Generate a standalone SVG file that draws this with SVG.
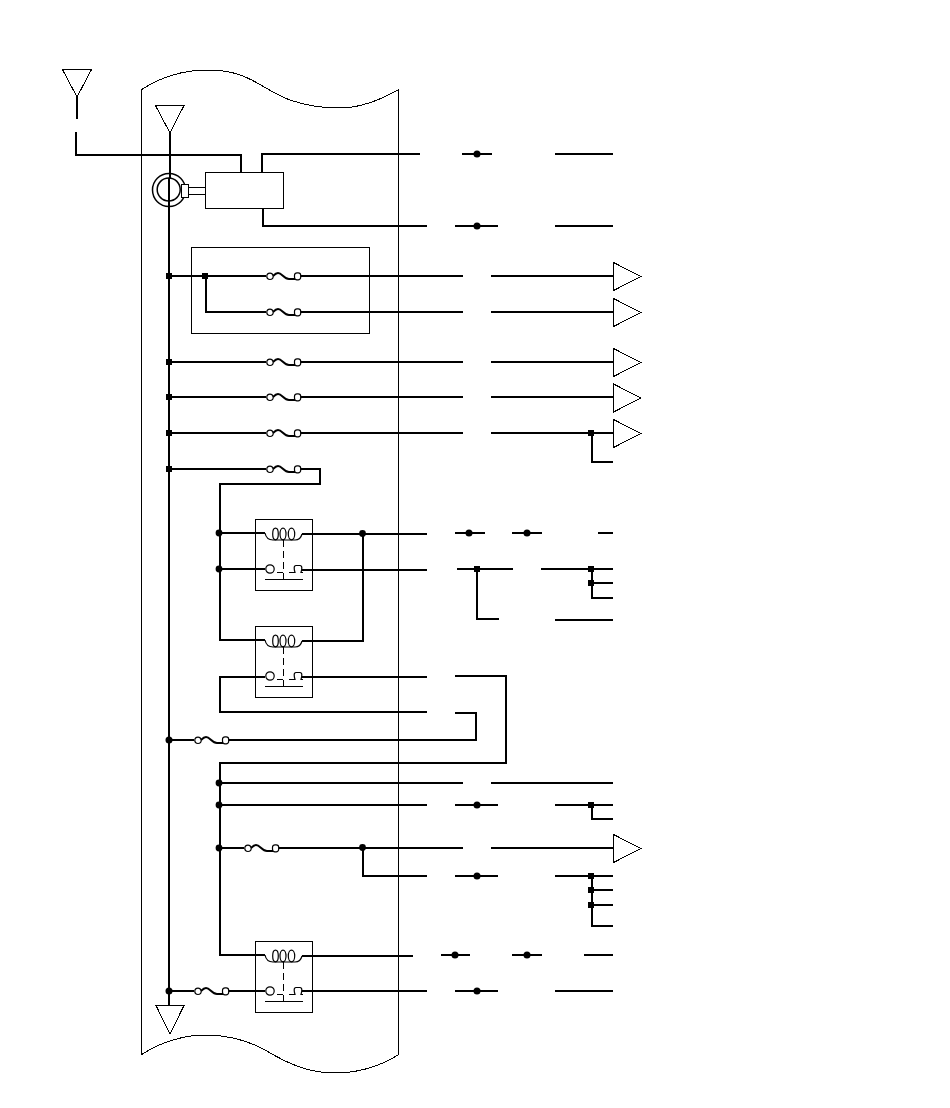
<svg xmlns="http://www.w3.org/2000/svg" width="950" height="1108" viewBox="0 0 950 1108" shape-rendering="crispEdges">
<style>
.w{fill:none;stroke:#000;stroke-width:2}
.t{fill:none;stroke:#000;stroke-width:1}
.c{fill:none;stroke:#000;stroke-width:1.2;shape-rendering:auto}
.tri{fill:#fff;stroke:#000;stroke-width:1}
.s{fill:#fff;stroke:#000;stroke-width:1.2;shape-rendering:auto}
.d{fill:#000}
.r{fill:#000;shape-rendering:auto}
</style>
<defs>
<g id="fuse">
<circle cx="4" cy="0.300" r="3.200" class="s"/>
<rect x="28.500" y="-3.200" width="6.200" height="7" rx="2.500" class="s"/>
<path d="M7 0C9 -2 10 -3 12 -3C16 -3 18 3 23 3H29M34.500 0H36" fill="none" stroke="#000" stroke-width="2" shape-rendering="auto"/>
</g>
<g id="relay">
<rect x="0.500" y="0.500" width="57" height="71" class="t"/>
<path d="M10 14C11 19 14 21 18 21H40C44 21 46 19 47 15" class="c"/>
<ellipse cx="20.500" cy="15" rx="2.800" ry="5.800" class="c"/>
<ellipse cx="28" cy="15" rx="3" ry="5.800" class="c"/>
<ellipse cx="36.500" cy="15" rx="3.200" ry="5.800" class="c"/>
<path d="M28.500 21V61" class="t" stroke-dasharray="7 4"/>
<circle cx="15" cy="50" r="4.200" class="c"/>
<path d="M22 53.500H28M34 53.500H40C39 50 38.500 46.500 41 46.500H45C47.500 46.500 47 50 46 53.500H48" class="c"/>
<path d="M10 60.500H48M28.500 60.500V55" class="t"/>
</g>
<path id="tr" d="M0 -14L27.500 0L0 14Z" class="tri"/>
</defs>
<g id="panel-outline">
<path class="t" d="M141 90C165 74 190 70 208 70C250 70 262 90 290 100C310 107 325 108 340 108C360 108 380 100 398 90V1055C380 1066 360 1073 335 1073C310 1073 290 1065 265 1050C245 1039 225 1035 205 1035C185 1035 160 1042 141 1055Z"/>
</g>
<g id="terminal-antenna-1"><path class="tri" d="M62.500 69.500H91.500L77 97Z"/></g>
<g id="terminal-antenna-2"><path class="tri" d="M155.500 105.500H184L170 133Z"/></g>
<g id="terminal-ground"><path class="tri" d="M156 1005.500H184L170 1034Z"/></g>
<g id="sensor">
<circle cx="169" cy="190" r="16.500" fill="#fff" stroke="#000" stroke-width="1.500" shape-rendering="auto"/>
<circle cx="168.700" cy="189.500" r="11.500" fill="none" stroke="#000" stroke-width="1.500" shape-rendering="auto"/>
<rect x="181" y="184.500" width="7" height="13" fill="#fff" stroke="#000"/>
<path class="t" d="M188 187.500H205M188 194.500H205"/>
</g>
<g id="module"><rect x="205.500" y="172.500" width="78" height="36" fill="#fff" stroke="#000"/></g>
<g id="fuse-block"><rect x="191.500" y="247.500" width="178" height="86" class="t"/></g>
<g id="connectors">
<path class="w" d="M77 97V119M76 132V155H241V172M262 172V154H420M462 154H492M555 154H613M263 208V226H427M455 226H498M555 226H613"/>
<path class="w" d="M170 133V178M169 178V1006"/>
<path class="w" d="M169 276H266M302 276H463M491 276H613M206 276V312H266M302 312H463M491 312H613"/>
<path class="w" d="M169 362H266M302 362H463M491 362H613M169 397H266M302 397H463M491 397H613M169 433H266M302 433H463M491 433H613M592 433V462H613"/>
<path class="w" d="M169 469H266M302 469H320V484H220V640H265M219 533H265M219 569H265M302 534H427M363 534V641H302M302 570H427"/>
<path class="w" d="M455 533H485M512 533H542M598 533H613M457 569H513M477 569V619H499M541 569H613M592 569V598H613M592 583H613M555 620H613"/>
<path class="w" d="M265 677H220V712H427M302 677H427M455 676H506V763H220V955H265M455 713H476V740H230M169 740H194"/>
<path class="w" d="M219 783H463M491 783H613M219 805H427M455 805H498M555 805H613M592 805V819H613"/>
<path class="w" d="M219 848H244M280 848H463M491 848H613M363 848V876H427M455 876H498M555 876H613M592 876V926H613M592 890H613M592 905H613"/>
<path class="w" d="M302 956H413M441 955H470M512 955H542M584 955H613M169 991H194M230 991H265M302 991H427M455 991H498M555 991H613"/>
</g>
<g id="junctions">
<rect class="d" x="166" y="273" width="6" height="6"/>
<rect class="d" x="202" y="273" width="6" height="6"/>
<rect class="d" x="166" y="359" width="6" height="6"/>
<rect class="d" x="166" y="394" width="6" height="6"/>
<rect class="d" x="166" y="430" width="6" height="6"/>
<rect class="d" x="166" y="466" width="6" height="6"/>
<rect class="d" x="588" y="430" width="6" height="6"/>
<circle class="r" cx="477" cy="154" r="3.500"/>
<circle class="r" cx="477" cy="226" r="3.500"/>
<circle class="r" cx="219" cy="533" r="3.400"/>
<circle class="r" cx="219" cy="569" r="3.400"/>
<circle class="r" cx="362.500" cy="533.500" r="3.400"/>
<circle class="r" cx="469" cy="533" r="3.500"/>
<circle class="r" cx="527" cy="533" r="3.500"/>
<rect class="d" x="474" y="566" width="6" height="6"/>
<rect class="d" x="588" y="566" width="6" height="6"/>
<rect class="d" x="588" y="580" width="6" height="6"/>
<circle class="r" cx="169" cy="740" r="3.500"/>
<circle class="r" cx="219" cy="783" r="3.400"/>
<circle class="r" cx="219" cy="805" r="3.400"/>
<circle class="r" cx="477" cy="805" r="3.500"/>
<rect class="d" x="588" y="802" width="6" height="6"/>
<circle class="r" cx="219" cy="848" r="3.400"/>
<circle class="r" cx="362.500" cy="847.500" r="3.400"/>
<circle class="r" cx="477" cy="876" r="3.500"/>
<rect class="d" x="588" y="873" width="6" height="6"/>
<rect class="d" x="588" y="887" width="6" height="6"/>
<rect class="d" x="588" y="902" width="6" height="6"/>
<circle class="r" cx="455" cy="955" r="3.500"/>
<circle class="r" cx="527" cy="955" r="3.500"/>
<circle class="r" cx="169" cy="991" r="3.500"/>
<circle class="r" cx="477" cy="991" r="3.500"/>
</g>
<g id="fuses">
<use href="#fuse" x="266" y="276"/>
<use href="#fuse" x="266" y="312"/>
<use href="#fuse" x="266" y="362"/>
<use href="#fuse" x="266" y="397"/>
<use href="#fuse" x="266" y="433"/>
<use href="#fuse" x="266" y="469"/>
<use href="#fuse" x="194" y="740"/>
<use href="#fuse" x="244" y="848"/>
<use href="#fuse" x="194" y="991"/>
</g>
<g id="relay-1"><use href="#relay" x="255" y="519"/></g>
<g id="relay-2"><use href="#relay" x="255" y="626"/></g>
<g id="relay-3"><use href="#relay" x="255" y="941"/></g>
<g id="outputs">
<use href="#tr" x="613.500" y="276.500"/>
<use href="#tr" x="613.500" y="312.500"/>
<use href="#tr" x="613.500" y="362.500"/>
<use href="#tr" x="613.500" y="398"/>
<use href="#tr" x="613.500" y="433.500"/>
<use href="#tr" x="613.500" y="848.500"/>
</g>
</svg>
